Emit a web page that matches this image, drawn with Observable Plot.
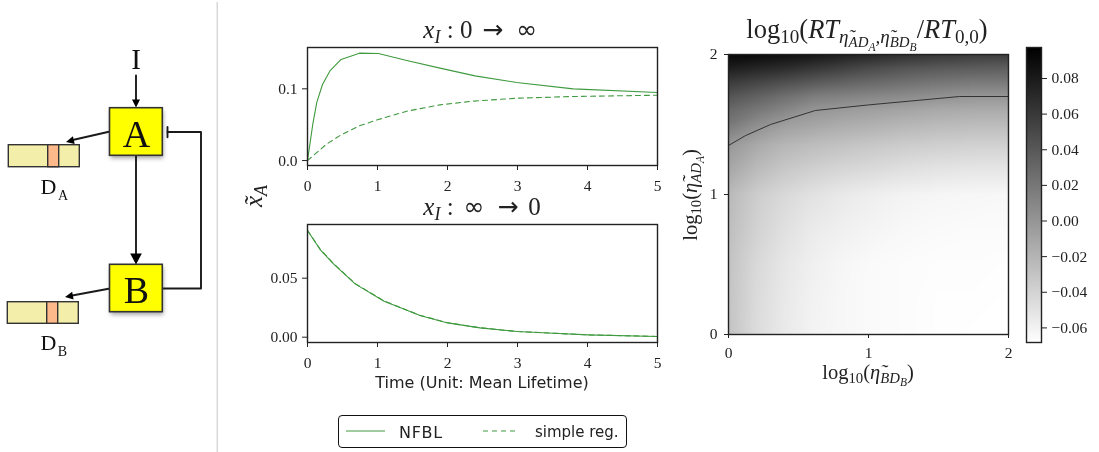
<!DOCTYPE html>
<html><head><meta charset="utf-8">
<script src="https://cdn.jsdelivr.net/npm/d3@7"></script>
<script src="https://cdn.jsdelivr.net/npm/@observablehq/plot@0.6"></script>
<style>
html,body{margin:0;background:#fff}
#page{position:relative;width:1099px;height:452px;overflow:hidden;font-family:"Liberation Serif",serif;color:#222;filter:blur(.35px)}
.lab{position:absolute;white-space:nowrap;line-height:1;transform:translate(-50%,-50%)}
.rot{transform:translate(-50%,-50%) rotate(-90deg)}
.sym{font-family:"DejaVu Sans",sans-serif;font-style:normal;margin:0 .14em}
sub{font-size:.72em;line-height:0;vertical-align:baseline;position:relative;top:.28em}
sub sub{font-size:.78em}
#legend{position:absolute;left:338px;top:415px;width:287px;height:31px;border:1.5px solid #111;border-radius:4px;font-family:"DejaVu Sans",sans-serif;font-size:15px}
#legend span{position:absolute;top:7px}
#legend svg{position:absolute;left:0;top:0}
</style></head><body><div id="page"></div>
<script>
// ---- time courses
const tOnNFBL = [0,0.076,0.133,0.214,0.324,0.48,0.742,1.013,1.418,1.893,2.393,2.988,3.796,5];
const vOnNFBL = [0,0.051,0.081,0.106,0.1255,0.141,0.1497,0.1492,0.1395,0.1288,0.118,0.1088,0.09995,0.0948];
const tOnSimple = [0,0.276,0.48,0.752,1.013,1.418,1.893,2.369,2.988,3.796,5];
const vOnSimple = [0,0.0232,0.0358,0.0488,0.0572,0.0688,0.0776,0.0828,0.0869,0.0893,0.0911];
const tOff = [0,0.18,0.371,0.68,1.094,1.608,2.003,2.464,2.997,3.511,4.01,5];
const vOffNFBL = [0.0904,0.0743,0.0621,0.0452,0.0305,0.0184,0.0121,0.0079,0.0048,0.0034,0.002,0.0006];
const vOffSimple = [0.0906,0.0746,0.0624,0.0455,0.0307,0.0185,0.0122,0.008,0.0048,0.0034,0.002,0.0006];
// ---- heat map samples, in thousandths
const heatX = [0,0.2,0.4,0.6,0.8,1,1.25,1.5,1.75,2];
const heatY = [0,0.25,0.5,0.75,1,1.2,1.35,1.5,1.6,1.7,1.8,1.9,2];
const heatMilli = [
 [-29.2,-45.4,-54.5,-60.3,-63,-64.9,-66.1,-67.4,-68.1,-68.1],
 [-29.8,-44.7,-53.8,-59.7,-63,-64.9,-66.1,-67.4,-67.4,-68.1],
 [-29.2,-43.4,-52.5,-58.4,-62.3,-64.9,-66.1,-66.8,-66.8,-67.4],
 [-25.9,-39.2,-48.3,-55.1,-58.4,-61,-63.6,-64.9,-65.5,-65.5],
 [-22.7,-35.6,-43.4,-49.3,-53.8,-57.1,-60.3,-62.3,-62.9,-63.6],
 [-9.7,-22.7,-31.1,-36.3,-40.2,-42.8,-46.7,-49.3,-50.6,-50.6],
 [-1.2,-12.9,-21.4,-25.9,-29.2,-32.4,-35.6,-37.6,-38.9,-38.9],
 [19.5,5.2,-5.1,-9.7,-14.2,-16.8,-20.7,-23.3,-24.6,-24.6],
 [29.3,19.5,9.8,0,-3.2,-6.4,-9.7,-12.9,-14.2,-14.2],
 [42.2,33.8,24.7,16.3,13,9.8,6.5,2.6,0,0],
 [58.5,52,45.5,39,33.8,29.3,24.7,20.8,18.2,18.2],
 [77.9,72.7,68.2,61.7,55.2,48.7,42.2,39,37,35.7],
 [92.2,90.9,87.7,83.1,77.9,72.7,66.2,61.7,58.5,57.2]];
const contourX = [0,0.12,0.3,0.62,1,1.65,2];
const contourY = [1.35,1.42,1.5,1.6,1.64,1.7,1.7];
const colorDomain = [-0.0682,0.0974];
const colorTicks = [-0.06,-0.04,-0.02,0,0.02,0.04,0.06,0.08];
// ---- diagram
const boxes = [{n:"A",x1:109.5,x2:162.3,y1:107.7,y2:155.3},{n:"B",x1:109.5,x2:162.3,y1:264.3,y2:311.7}];
const bars = [{x1:8.3,x2:79.3,y1:144.7,y2:166.7},{x1:7.3,x2:78.3,y1:301.7,y2:323.3}];
const marks2 = [{x1:47.7,x2:58.7,y1:144.7,y2:166.7},{x1:46.7,x2:57.7,y1:301.7,y2:323.3}];
const wires = [
 {id:"I",x:135.5,y:75},{id:"I",x:135.5,y:102},
 {id:"AB",x:135.5,y:155},{id:"AB",x:135.5,y:254},
 {id:"AD",x:109.5,y:131},{id:"AD",x:70,y:140},
 {id:"BD",x:109.5,y:288},{id:"BD",x:69,y:295.5},
 {id:"fb",x:162.3,y:288},{id:"fb",x:200.5,y:288},{id:"fb",x:200.5,y:131.5},{id:"fb",x:167,y:131.5},
 {id:"T",x:167,y:126.5},{id:"T",x:167,y:136.7}];
const smallHeads = [{x:135.5,y:107,a:180},{x:65.5,y:141.5,a:257},{x:64.5,y:296.5,a:260}];
const bigHeads = [{x:135.5,y:264,a:180}];
const diagramText = [
 {s:"I",x:135.5,y:59.5,f:29},{s:"A",x:136,y:134.5,f:38},{s:"B",x:136,y:290,f:38},
 {s:"D",x:48,y:186,f:22},{s:"A",x:62.5,y:195.5,f:14},{s:"D",x:48,y:342.5,f:22},{s:"B",x:62,y:351.5,f:14}];

const page = document.getElementById("page");
const place = (el,l,t)=>{el.style.position="absolute";el.style.left=l+"px";el.style.top=t+"px";page.appendChild(el);};
const baseStyle = {background:"transparent",fontFamily:"'Liberation Serif',serif",fontSize:"15.5px",color:"#222",overflow:"visible"};
const green = "#3f9a3f";
const zip = (xs,ys)=>xs.map((x,i)=>({x,y:ys[i]}));

// diagram
place(Plot.plot({width:230,height:452,margin:0,style:baseStyle,
  x:{domain:[0,230],range:[0,230],axis:null},y:{domain:[0,452],range:[0,452],axis:null},
  marks:[
    Plot.ruleX([216.7],{y1:2,y2:452,stroke:"#cfcfcf",strokeWidth:1.2}),
    Plot.rect(boxes,{x1:"x1",x2:"x2",y1:"y1",y2:"y2",dx:1,dy:3,fill:"#000",fillOpacity:.35,imageFilter:"blur(2px)"}),
    Plot.line(wires,{x:"x",y:"y",z:"id",stroke:"#1a1a1a",strokeWidth:1.9}),
    Plot.rect(boxes,{x1:"x1",x2:"x2",y1:"y1",y2:"y2",fill:"#ffff00",stroke:"#333",strokeWidth:1.6}),
    Plot.rect(bars,{x1:"x1",x2:"x2",y1:"y1",y2:"y2",fill:"#f3eeaa",stroke:"#333",strokeWidth:1.4}),
    Plot.rect(marks2,{x1:"x1",x2:"x2",y1:"y1",y2:"y2",fill:"#fdb98a",stroke:"#333",strokeWidth:1.4}),
    Plot.vector(smallHeads,{x:"x",y:"y",rotate:"a",length:8,r:4,anchor:"end",fill:"#000",stroke:"none",
      shape:{draw(c,l,r){c.moveTo(0,-l);c.lineTo(r,0);c.lineTo(-r,0);c.closePath();}}}),
    Plot.vector(bigHeads,{x:"x",y:"y",rotate:"a",length:11,r:5.8,anchor:"end",fill:"#000",stroke:"none",
      shape:{draw(c,l,r){c.moveTo(0,-l);c.lineTo(r,0);c.lineTo(-r,0);c.closePath();}}}),
    Plot.text(diagramText,{x:"x",y:"y",text:"s",fontSize:"f",fill:"#111"})
  ]}),0,0);

// time-course panel
function panel(left,top,h,dom,ticks,fmt,series){
  const ml=60,mt=5,mb=32,mr=12;
  const p=Plot.plot({width:350+ml+mr,height:h+mt+mb,marginLeft:ml,marginRight:mr,marginTop:mt,marginBottom:mb,style:baseStyle,
    x:{domain:[0,5]},y:{domain:dom},
    marks:[
      Plot.axisX({ticks:[0,1,2,3,4,5],tickSize:5,tickPadding:9,label:null,tickFormat:d=>d}),
      Plot.axisY({ticks,tickSize:5,tickPadding:5,label:null,tickFormat:fmt}),
      ...series.map(s=>Plot.line(s.d,{x:"x",y:"y",stroke:green,strokeWidth:1.1,strokeDasharray:s.dash})),
      Plot.frame({stroke:"#222",strokeWidth:1.4})
    ]});
  place(p,left-ml,top-mt);
}
panel(307,47,118,[-0.0069,0.1576],[0,0.1],d3.format(".1f"),[{d:zip(tOnNFBL,vOnNFBL)},{d:zip(tOnSimple,vOnSimple),dash:"5,4"}]);
panel(307,224,118,[-0.0045,0.0955],[0,0.05],d3.format(".2f"),[{d:zip(tOff,vOffNFBL)},{d:zip(tOff,vOffSimple),dash:"5,4"}]);

// heat map
const samples = heatY.flatMap((y,j)=>heatX.map((x,i)=>({x,y,v:heatMilli[j][i]/1000})));
const colorScale = {type:"linear",domain:colorDomain,range:["#ffffff","#000000"]};
place(Plot.plot({width:280+40+12,height:280+5+30,marginLeft:40,marginRight:12,marginTop:5,marginBottom:30,style:baseStyle,
  x:{domain:[0,2]},y:{domain:[0,2]},color:colorScale,
  marks:[
    Plot.raster(samples,{x:"x",y:"y",fill:"v",interpolate:"barycentric",x1:0,x2:2,y1:0,y2:2,pixelSize:1}),
    Plot.line(zip(contourX,contourY),{x:"x",y:"y",stroke:"#333",strokeWidth:1}),
    Plot.axisX({ticks:[0,1,2],tickSize:4,tickPadding:8,label:null,tickFormat:d=>d}),
    Plot.axisY({ticks:[0,1,2],tickSize:4,tickPadding:7,label:null,tickFormat:d=>d}),
    Plot.frame({stroke:"#222",strokeWidth:1.4})
  ]}),728-40,54-5);

// colour bar
place(Plot.plot({width:15+5+60,height:295+10,marginLeft:5,marginRight:60,marginTop:5,marginBottom:5,style:baseStyle,
  x:{domain:[0,1],axis:null},y:{domain:colorDomain},color:colorScale,
  marks:[
    Plot.raster({x1:0,x2:1,y1:colorDomain[0],y2:colorDomain[1],fill:(x,y)=>y,pixelSize:1}),
    Plot.axisY({anchor:"right",ticks:colorTicks,tickSize:5,tickPadding:5,label:null,tickFormat:d=>d3.format(".2f")(d).replace("-","\u2212")}),
    Plot.frame({stroke:"#222",strokeWidth:1.4})
  ]}),1026-5,47-5);

// text
const eta="\u03b7\u0303";
const labels=[
 {h:`<i>x<sub>I</sub></i> : 0 <span class="sym">→</span> <span class="sym">∞</span>`,x:482,y:29,f:25},
 {h:`<i>x<sub>I</sub></i> : <span class="sym">∞</span> <span class="sym">→</span> 0`,x:482,y:206,f:25},
 {h:`<i>x\u0303<sub>A</sub></i>`,x:253,y:196,f:25,r:1},
 {h:`log<sub>10</sub>(<i>RT<sub>${eta}<sub>AD<sub>A</sub></sub>,${eta}<sub>BD<sub>B</sub></sub></sub></i>/<i>RT</i><sub>0,0</sub>)`,x:867,y:29,f:26.5},
 {h:`log<sub>10</sub>(<i>${eta}<sub>BD<sub>B</sub></sub></i>)`,x:868,y:372,f:20.5},
 {h:`log<sub>10</sub>(<i>${eta}<sub>AD<sub>A</sub></sub></i>)`,x:690,y:195,f:20.5,r:1},
 {h:`Time (Unit: Mean Lifetime)`,x:482,y:383,f:16,sans:1}
];
for(const l of labels){
  const d=document.createElement("div");d.className="lab"+(l.r?" rot":"");d.innerHTML=l.h;
  d.style.left=l.x+"px";d.style.top=l.y+"px";d.style.fontSize=l.f+"px";
  if(l.sans)d.style.fontFamily="'DejaVu Sans',sans-serif";
  page.appendChild(d);
}
const leg=document.createElement("div");leg.id="legend";
leg.innerHTML=`<svg width="287" height="31"><line x1="7" x2="46" y1="15" y2="15" stroke="${green}"/><line x1="144" x2="176" y1="15" y2="15" stroke="${green}" stroke-dasharray="5,4"/></svg><span style="left:60px;font-size:16px;letter-spacing:.7px">NFBL</span><span style="left:196px">simple reg.</span>`;
page.appendChild(leg);
</script></body></html>
